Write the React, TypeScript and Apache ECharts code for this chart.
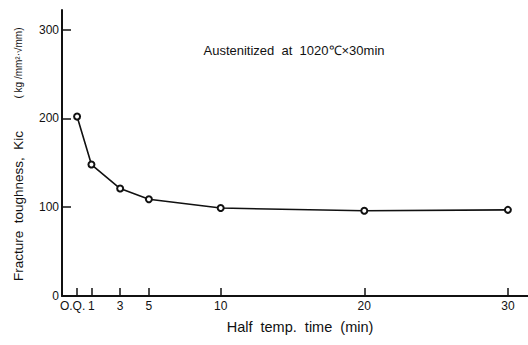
import React, { useEffect, useRef } from "react";
import * as echarts from "echarts";

const xValues = [0, 1, 3, 5, 10, 20, 30];
const kicValues = [202, 148, 121, 109, 99, 96, 97];
const xTickValues = [0, 1, 3, 5, 10, 20, 30];
const xTickLabels = ["O.Q.", "1", "3", "5", "10", "20", "30"];
const yTickValues = [0, 100, 200, 300];

export default function App() {
  const ref = useRef<HTMLDivElement>(null);
  useEffect(() => {
    if (!ref.current) return;
    const chart = echarts.init(ref.current, undefined, { renderer: "svg" });
    const font = "'Liberation Sans', Arial, sans-serif";
    chart.setOption({
      animation: false,
      backgroundColor: "#ffffff",
      grid: { left: 62, right: 0, top: 10, bottom: 49 },
      xAxis: {
        type: "value",
        min: -1.05,
        max: 31.4,
        axisLine: { show: true, onZero: false, lineStyle: { color: "#111", width: 2 } },
        axisTick: {
          show: true,
          inside: true,
          length: 8,
          customValues: xTickValues,
          lineStyle: { color: "#111", width: 1.5 },
        },
        axisLabel: {
          customValues: xTickValues,
          hideOverlap: false,
          showMinLabel: true,
          formatter: (v: number) => {
            const i = xTickValues.indexOf(v);
            if (i === 0) return "{oq|" + xTickLabels[i] + "}";
            return i >= 0 ? xTickLabels[i] : "";
          },
          rich: {
            oq: { fontSize: 12, fontFamily: font, color: "#111", padding: [0, 9, 0, 0] },
          },
          color: "#111",
          fontSize: 12,
          fontFamily: font,
          margin: 4,
        },
        splitLine: { show: false },
      },
      yAxis: {
        type: "value",
        min: 0,
        max: 322,
        axisLine: { show: true, onZero: false, lineStyle: { color: "#111", width: 2 } },
        axisTick: {
          show: true,
          inside: true,
          length: 9,
          customValues: yTickValues,
          lineStyle: { color: "#111", width: 1.5 },
        },
        axisLabel: {
          customValues: yTickValues,
          color: "#111",
          fontSize: 12,
          fontFamily: font,
          margin: 3,
        },
        splitLine: { show: false },
      },
      series: [
        {
          type: "line",
          data: xValues.map((x, i) => [x, kicValues[i]]),
          symbol: "emptyCircle",
          symbolSize: 6,
          lineStyle: { color: "#111", width: 1.6 },
          itemStyle: { color: "#111", borderWidth: 1.3 },
        },
      ],
      graphic: [
        {
          type: "text",
          x: 18,
          y: 206,
          rotation: Math.PI / 2,
          style: {
            text: "Fracture  toughness,  Kic",
            font: `13.5px ${font}`,
            fill: "#111",
            align: "center",
            verticalAlign: "middle",
          },
        },
        {
          type: "text",
          x: 18,
          y: 63,
          rotation: Math.PI / 2,
          style: {
            text: "( kg /mm²·√mm)",
            font: `10px ${font}`,
            fill: "#111",
            align: "center",
            verticalAlign: "middle",
          },
        },
        {
          type: "text",
          x: 300,
          y: 327,
          style: {
            text: "Half  temp.  time  (min)",
            font: `14.5px ${font}`,
            fill: "#111",
            align: "center",
            verticalAlign: "middle",
          },
        },
        {
          type: "text",
          x: 294,
          y: 50,
          style: {
            text: "Austenitized  at  1020℃×30min",
            font: `13px ${font}`,
            fill: "#111",
            align: "center",
            verticalAlign: "middle",
          },
        },
      ],
    });
    return () => chart.dispose();
  }, []);
  return (
    <div
      ref={ref}
      style={{ position: "absolute", left: 0, top: 0, width: 528, height: 345 }}
    />
  );
}
